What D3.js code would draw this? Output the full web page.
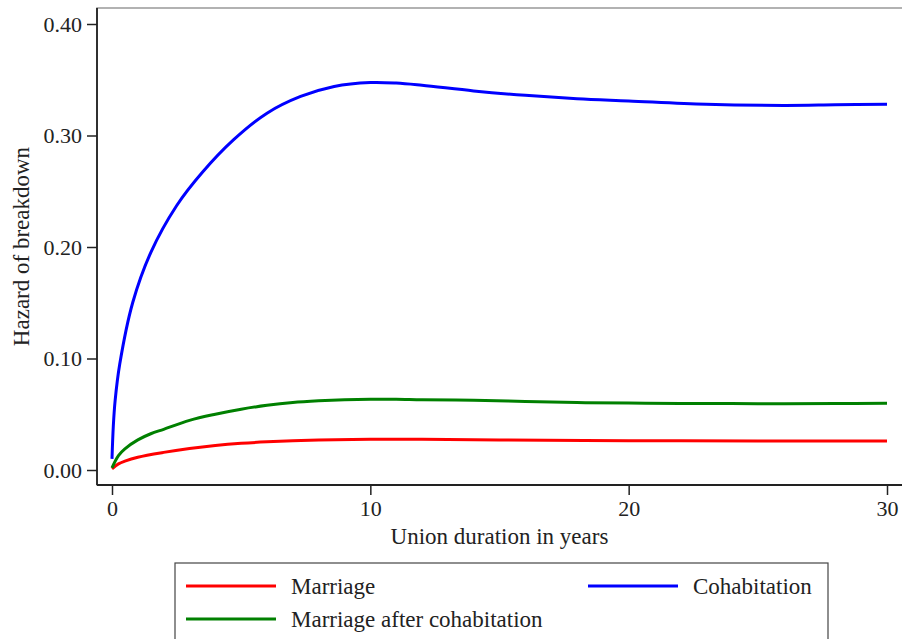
<!DOCTYPE html>
<html>
<head>
<meta charset="utf-8">
<script src="https://cdn.jsdelivr.net/npm/d3@7"></script>
<style>
    body { margin: 0; background: #fff; }
    text { font-family: "Liberation Serif", "DejaVu Serif", serif; fill: #222; }
</style>
</head>
<body>
<div id="chart"></div>
<script>
const width = 902;
const height = 639;

// values
const seriesNames = ['Marriage', 'Cohabitation', 'Marriage after cohabitation'];
const seriesColors = ['#ff0000', '#0000ff', '#008000'];

const marriageT = [0, 0.25, 0.5, 1, 2, 3, 4, 5, 6, 7, 8, 10, 12, 15, 20, 25, 30];
const marriageV = [0.001, 0.0055, 0.008, 0.0115, 0.0158, 0.0192, 0.0219, 0.0239, 0.0253, 0.0263, 0.0269, 0.0275, 0.0275, 0.027, 0.0263, 0.026, 0.026];

const cohabT = [0, 0.05, 0.12, 0.3, 0.8, 1.5, 2.5, 3.5, 4.7, 6, 7.3, 8.6, 10, 11, 12, 14, 16, 18, 20, 23, 26, 28, 30];
const cohabV = [0.010, 0.039, 0.062, 0.095, 0.150, 0.195, 0.237, 0.267, 0.296, 0.320, 0.335, 0.344, 0.3475, 0.347, 0.345, 0.340, 0.336, 0.333, 0.331, 0.328, 0.327, 0.3275, 0.328];

const afterCohabT = [0, 0.25, 0.5, 1, 1.5, 2, 3, 4, 5, 6, 7, 8, 9, 10, 11, 12, 14, 16, 18, 20, 22, 25, 28, 30];
const afterCohabV = [0.002, 0.013, 0.019, 0.027, 0.0325, 0.0365, 0.0445, 0.050, 0.0545, 0.058, 0.0605, 0.062, 0.063, 0.0635, 0.0635, 0.063, 0.0625, 0.0615, 0.0605, 0.060, 0.0597, 0.0595, 0.0596, 0.0598];

const xTicks = [0, 10, 20, 30];
const yTicks = [0, 0.1, 0.2, 0.3, 0.4];

const series = [
    { name: seriesNames[0], color: seriesColors[0], points: d3.zip(marriageT, marriageV) },
    { name: seriesNames[1], color: seriesColors[1], points: d3.zip(cohabT, cohabV) },
    { name: seriesNames[2], color: seriesColors[2], points: d3.zip(afterCohabT, afterCohabV) }
];

const plot = { left: 97, top: 8, right: 900, bottom: 485 };

const xScale = d3.scaleLinear().domain([0, 30]).range([112, 887]);
const yScale = d3.scaleLinear().domain([0, 0.4]).range([470, 24]);

const svg = d3.select('#chart')
    .append('svg')
    .attr('width', width)
    .attr('height', height);

// plot region outline
svg.append('rect')
    .attr('x', plot.left)
    .attr('y', plot.top)
    .attr('width', plot.right - plot.left + 4)
    .attr('height', plot.bottom - plot.top)
    .attr('fill', 'none')
    .attr('stroke', '#999')
    .attr('stroke-width', 1.5);

const line = d3.line()
    .x((d) => xScale(d[0]))
    .y((d) => yScale(d[1]))
    .curve(d3.curveCatmullRom.alpha(0.5));

svg.selectAll('.series')
    .data(series)
    .enter()
    .append('path')
    .attr('class', 'series')
    .attr('d', (d) => line(d.points))
    .attr('fill', 'none')
    .attr('stroke', (d) => d.color)
    .attr('stroke-width', 3);

const xAxis = d3.axisBottom(xScale)
    .tickValues(xTicks)
    .tickSize(10)
    .tickPadding(5)
    .tickFormat(d3.format('d'));

const yAxis = d3.axisLeft(yScale)
    .tickValues(yTicks)
    .tickSize(10)
    .tickPadding(5)
    .tickFormat(d3.format('.2f'));

const gx = svg.append('g')
    .attr('transform', 'translate(0,' + plot.bottom + ')')
    .call(xAxis);

const gy = svg.append('g')
    .attr('transform', 'translate(' + plot.left + ',0)')
    .call(yAxis);

[gx, gy].forEach((g) => {
    g.select('.domain').remove();
    g.selectAll('.tick line').attr('stroke', '#222').attr('stroke-width', 1.5);
    g.selectAll('.tick text')
        .style('font-family', '"Liberation Serif", serif')
        .style('font-size', '22px')
        .attr('fill', '#222');
});

// axis lines
svg.append('line')
    .attr('x1', plot.left).attr('x2', plot.left)
    .attr('y1', plot.top).attr('y2', plot.bottom)
    .attr('stroke', '#222').attr('stroke-width', 1.8);

svg.append('line')
    .attr('x1', plot.left).attr('x2', width)
    .attr('y1', plot.bottom).attr('y2', plot.bottom)
    .attr('stroke', '#222').attr('stroke-width', 1.8);

// axis titles
svg.append('text')
    .attr('x', (xScale(0) + xScale(30)) / 2)
    .attr('y', 544)
    .attr('text-anchor', 'middle')
    .style('font-size', '23px')
    .text('Union duration in years');

svg.append('text')
    .attr('transform', 'translate(29,' + ((plot.top + plot.bottom) / 2) + ') rotate(-90)')
    .attr('text-anchor', 'middle')
    .style('font-size', '23px')
    .text('Hazard of breakdown');

// legend
const legend = svg.append('g');

legend.append('rect')
    .attr('x', 175)
    .attr('y', 563)
    .attr('width', 653)
    .attr('height', 100)
    .attr('fill', '#fff')
    .attr('stroke', '#444')
    .attr('stroke-width', 1.2);

const legendPos = [
    { x: 186, y: 586 },
    { x: 588, y: 586 },
    { x: 186, y: 619 }
];

const items = legend.selectAll('.item')
    .data(series)
    .enter()
    .append('g')
    .attr('class', 'item')
    .attr('transform', (d, i) => 'translate(' + legendPos[i].x + ',' + legendPos[i].y + ')');

items.append('line')
    .attr('x1', 0).attr('x2', 90)
    .attr('y1', 0).attr('y2', 0)
    .attr('stroke', (d) => d.color)
    .attr('stroke-width', 3);

items.append('text')
    .attr('x', 105)
    .attr('y', 8)
    .style('font-size', '23px')
    .text((d) => d.name);
</script>
</body>
</html>
